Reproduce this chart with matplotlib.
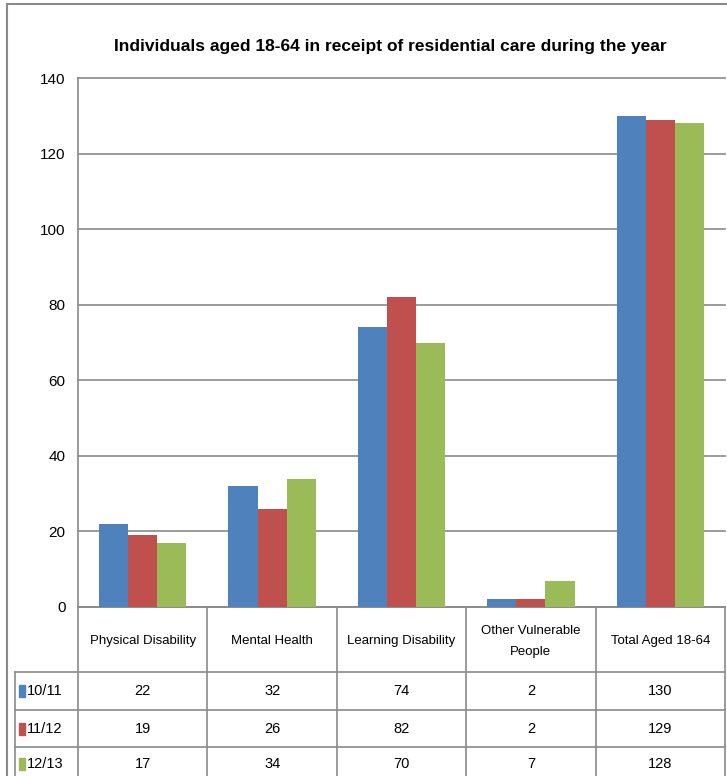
import matplotlib
matplotlib.use("Agg")
import matplotlib.pyplot as plt
import matplotlib.transforms as mtransforms
from matplotlib.patches import Rectangle
import numpy as np

categories = ["Physical Disability", "Mental Health", "Learning Disability",
              "Other Vulnerable\nPeople", "Total Aged 18-64"]
series_names = ["10/11", "11/12", "12/13"]
v_1011 = [22, 32, 74, 2, 130]
v_1112 = [19, 26, 82, 2, 129]
v_1213 = [17, 34, 70, 7, 128]
yticks = [0, 20, 40, 60, 80, 100, 120, 140]
title = "Individuals aged 18-64 in receipt of residential care during the year"

colors = ["#4F81BD", "#C0504D", "#9BBB59"]
series = [v_1011, v_1112, v_1213]

plt.rcParams['font.family'] = ['Liberation Sans', 'DejaVu Sans']

W, H = 727, 776
fig = plt.figure(figsize=(W / 100, H / 100), dpi=100)

def fx(px):
    return px / W

def fy(py):
    return 1 - py / H

left_px, right_px, top_px, bot_px = 78, 725, 78, 607
ax = fig.add_axes([fx(left_px), fy(bot_px), fx(right_px) - fx(left_px), fy(top_px) - fy(bot_px)])

n = len(categories)
x = np.arange(n)
bw = 0.225
for i, (vals, c) in enumerate(zip(series, colors)):
    ax.bar(x + (i - 1) * bw, vals, width=bw, color=c, zorder=3)

ax.set_xlim(-0.5, n - 0.5)
ax.set_ylim(0, 140)
ax.set_yticks(yticks)
ax.set_yticklabels([str(t) for t in yticks], fontsize=11)
ax.set_xticks([])
ax.yaxis.grid(True, color="#8a8a8a", linewidth=1.2, zorder=0)
for gl in ax.yaxis.get_gridlines():
    gl.set_clip_on(False)
for s in ["top", "right", "bottom"]:
    ax.spines[s].set_visible(False)
ax.spines["left"].set_color("#8a8a8a")
ax.spines["left"].set_linewidth(1.2)
ax.tick_params(axis="y", length=0, pad=9)

fig.text(0.5 * (fx(112) + fx(668)), fy(46), title, ha="center", va="center",
         fontsize=12.5, fontweight="bold")

# Data table below the axis, x in data coords, y in figure coords
tr = mtransforms.blended_transform_factory(ax.transData, fig.transFigure)
lc = "#8a8a8a"
lw = 1.2
row_edges = [607, 672, 710, 747, 790]
label_left = -0.5 - (78 - 15) / 129.4
ax.plot([-0.5, n - 0.5], [fy(607)] * 2, transform=tr, color=lc, lw=lw, clip_on=False)
for yy in row_edges[1:4]:
    ax.plot([label_left, n - 0.5], [fy(yy)] * 2, transform=tr, color=lc, lw=lw, clip_on=False)
for k in range(n + 1):
    xb = -0.5 + k
    ax.plot([xb, xb], [fy(607), fy(790)], transform=tr, color=lc, lw=lw, clip_on=False)
ax.plot([label_left, label_left], [fy(672), fy(790)], transform=tr, color=lc, lw=lw, clip_on=False)

for k, cat in enumerate(categories):
    fig.text(k, fy(641), cat, transform=tr, ha="center", va="center", fontsize=9.5,
             linespacing=2.0)

row_mid = [691, 729, 764]
for r, (name, vals, c) in enumerate(zip(series_names, series, colors)):
    ymid = fy(row_mid[r])
    for k, v in enumerate(vals):
        fig.text(k, ymid, str(v), transform=tr, ha="center", va="center", fontsize=10.5)
    fig.add_artist(Rectangle((fx(19), ymid - 6 / H), 6 / W, 12 / H,
                             transform=fig.transFigure, color=c))
    fig.text(fx(27), ymid, name, ha="left", va="center", fontsize=10.5)

fig.add_artist(Rectangle((fx(7), fy(800)), 1.0, fy(4) - fy(800), transform=fig.transFigure,
                         fill=False, edgecolor="#8a8a8a", lw=1.5))

fig.savefig("out.png", dpi=100)
